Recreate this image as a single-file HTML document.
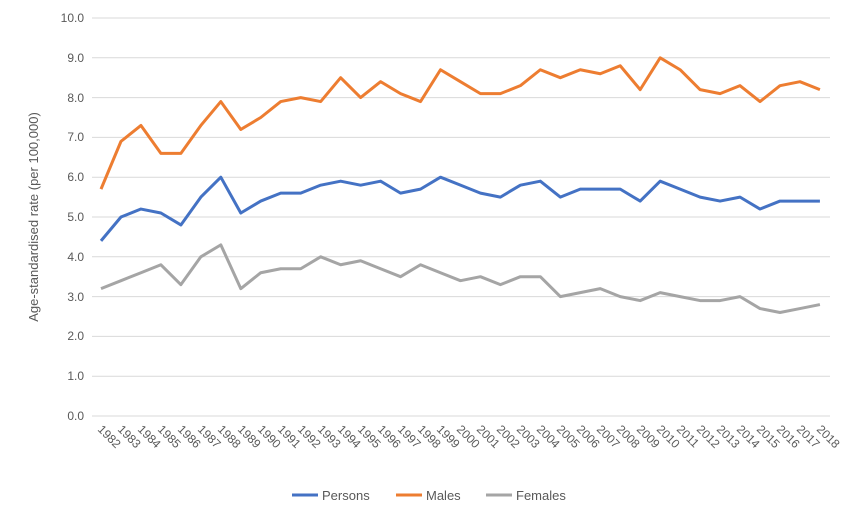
<!DOCTYPE html>
<html><head><meta charset="utf-8"><style>
body{margin:0;background:#fff;}
svg{display:block;font-family:"Liberation Sans",sans-serif;}
</style></head><body>
<svg width="849" height="521" viewBox="0 0 849 521">
<g stroke="#d9d9d9" stroke-width="1">
<line x1="92" x2="830" y1="18" y2="18"/><line x1="92" x2="830" y1="57.8" y2="57.8"/><line x1="92" x2="830" y1="97.6" y2="97.6"/><line x1="92" x2="830" y1="137.4" y2="137.4"/><line x1="92" x2="830" y1="177.2" y2="177.2"/><line x1="92" x2="830" y1="217" y2="217"/><line x1="92" x2="830" y1="256.8" y2="256.8"/><line x1="92" x2="830" y1="296.6" y2="296.6"/><line x1="92" x2="830" y1="336.4" y2="336.4"/><line x1="92" x2="830" y1="376.2" y2="376.2"/><line x1="92" x2="830" y1="416" y2="416"/>
</g>
<g font-size="12" fill="#595959" text-anchor="end">
<text x="84" y="22">10.0</text><text x="84" y="62">9.0</text><text x="84" y="102">8.0</text><text x="84" y="141">7.0</text><text x="84" y="181">6.0</text><text x="84" y="221">5.0</text><text x="84" y="261">4.0</text><text x="84" y="301">3.0</text><text x="84" y="340">2.0</text><text x="84" y="380">1.0</text><text x="84" y="420">0.0</text>
</g>
<text transform="translate(38,217) rotate(-90)" font-size="13" fill="#595959" text-anchor="middle">Age-standardised rate (per 100,000)</text>
<g fill="none" stroke-width="3" stroke-linejoin="round" transform="translate(101,416) scale(19.97,-39.8)">
<polyline vector-effect="non-scaling-stroke" stroke="#ed7d31" points="0,5.7 1,6.9 2,7.3 3,6.6 4,6.6 5,7.3 6,7.9 7,7.2 8,7.5 9,7.9 10,8.0 11,7.9 12,8.5 13,8.0 14,8.4 15,8.1 16,7.9 17,8.7 18,8.4 19,8.1 20,8.1 21,8.3 22,8.7 23,8.5 24,8.7 25,8.6 26,8.8 27,8.2 28,9.0 29,8.7 30,8.2 31,8.1 32,8.3 33,7.9 34,8.3 35,8.4 36,8.2"/>
<polyline vector-effect="non-scaling-stroke" stroke="#4472c4" points="0,4.4 1,5.0 2,5.2 3,5.1 4,4.8 5,5.5 6,6.0 7,5.1 8,5.4 9,5.6 10,5.6 11,5.8 12,5.9 13,5.8 14,5.9 15,5.6 16,5.7 17,6.0 18,5.8 19,5.6 20,5.5 21,5.8 22,5.9 23,5.5 24,5.7 25,5.7 26,5.7 27,5.4 28,5.9 29,5.7 30,5.5 31,5.4 32,5.5 33,5.2 34,5.4 35,5.4 36,5.4"/>
<polyline vector-effect="non-scaling-stroke" stroke="#a5a5a5" points="0,3.2 1,3.4 2,3.6 3,3.8 4,3.3 5,4.0 6,4.3 7,3.2 8,3.6 9,3.7 10,3.7 11,4.0 12,3.8 13,3.9 14,3.7 15,3.5 16,3.8 17,3.6 18,3.4 19,3.5 20,3.3 21,3.5 22,3.5 23,3.0 24,3.1 25,3.2 26,3.0 27,2.9 28,3.1 29,3.0 30,2.9 31,2.9 32,3.0 33,2.7 34,2.6 35,2.7 36,2.8"/>
</g>
<g font-size="12" fill="#595959">
<text transform="translate(97,430) rotate(45)">1982</text><text transform="translate(117,430) rotate(45)">1983</text><text transform="translate(137,430) rotate(45)">1984</text><text transform="translate(157,430) rotate(45)">1985</text><text transform="translate(177,430) rotate(45)">1986</text><text transform="translate(197,430) rotate(45)">1987</text><text transform="translate(217,430) rotate(45)">1988</text><text transform="translate(237,430) rotate(45)">1989</text><text transform="translate(257,430) rotate(45)">1990</text><text transform="translate(277,430) rotate(45)">1991</text><text transform="translate(297,430) rotate(45)">1992</text><text transform="translate(317,430) rotate(45)">1993</text><text transform="translate(337,430) rotate(45)">1994</text><text transform="translate(357,430) rotate(45)">1995</text><text transform="translate(377,430) rotate(45)">1996</text><text transform="translate(397,430) rotate(45)">1997</text><text transform="translate(417,430) rotate(45)">1998</text><text transform="translate(436,430) rotate(45)">1999</text><text transform="translate(456,430) rotate(45)">2000</text><text transform="translate(476,430) rotate(45)">2001</text><text transform="translate(496,430) rotate(45)">2002</text><text transform="translate(516,430) rotate(45)">2003</text><text transform="translate(536,430) rotate(45)">2004</text><text transform="translate(556,430) rotate(45)">2005</text><text transform="translate(576,430) rotate(45)">2006</text><text transform="translate(596,430) rotate(45)">2007</text><text transform="translate(616,430) rotate(45)">2008</text><text transform="translate(636,430) rotate(45)">2009</text><text transform="translate(656,430) rotate(45)">2010</text><text transform="translate(676,430) rotate(45)">2011</text><text transform="translate(696,430) rotate(45)">2012</text><text transform="translate(716,430) rotate(45)">2013</text><text transform="translate(736,430) rotate(45)">2014</text><text transform="translate(756,430) rotate(45)">2015</text><text transform="translate(776,430) rotate(45)">2016</text><text transform="translate(796,430) rotate(45)">2017</text><text transform="translate(816,430) rotate(45)">2018</text>
</g>
<g font-size="13" fill="#595959">
<line x1="292" x2="318" y1="495" y2="495" stroke="#4472c4" stroke-width="3"/><text x="322" y="500">Persons</text>
<line x1="396" x2="422" y1="495" y2="495" stroke="#ed7d31" stroke-width="3"/><text x="426" y="500">Males</text>
<line x1="486" x2="512" y1="495" y2="495" stroke="#a5a5a5" stroke-width="3"/><text x="516" y="500">Females</text>
</g>
</svg>
</body></html>
